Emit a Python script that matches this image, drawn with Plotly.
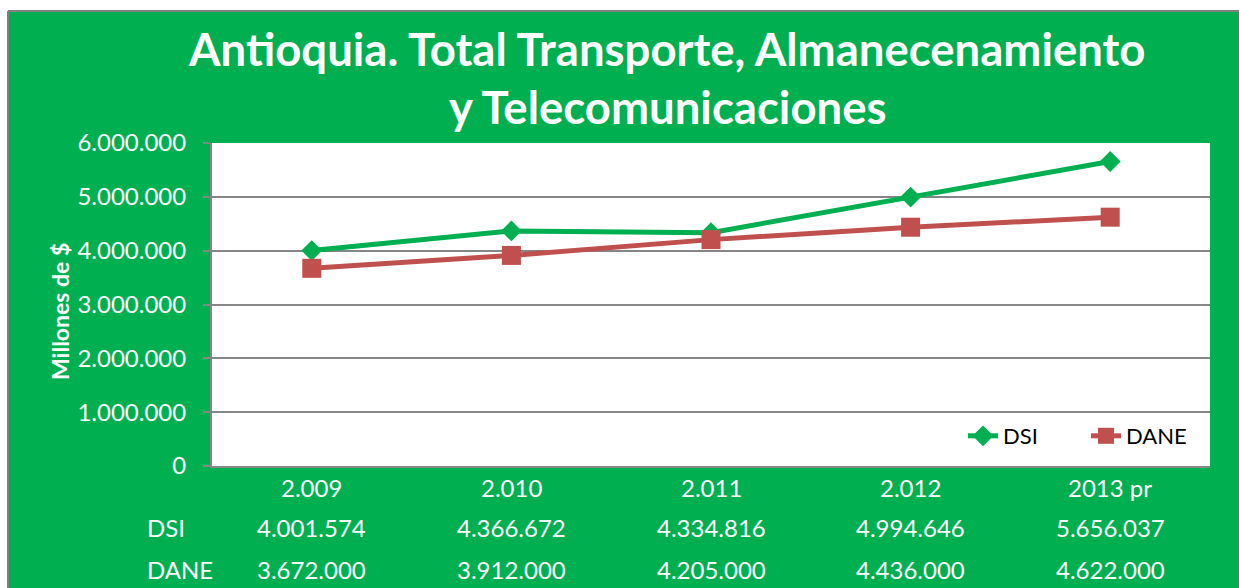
import plotly.graph_objects as go

categories = ["2.009", "2.010", "2.011", "2.012", "2013 pr"]
dsi = [4001574, 4366672, 4334816, 4994646, 5656037]
dane = [3672000, 3912000, 4205000, 4436000, 4622000]
series_names = ["DSI", "DANE"]

GREEN_BG = "#00B050"
DSI_COLOR = "#00B050"
DANE_COLOR = "#C0504D"
GRID = "#868686"
FONT = "Lato"

def fmt(v):
    return f"{v:,}".replace(",", ".")

W, H = 1239, 588
L, R, T, B = 212, 1210, 143, 466
pw, ph = R - L, B - T

def px(x):  # page x -> paper
    return (x - L) / pw

def py(y):  # page y -> paper
    return (B - y) / ph

fig = go.Figure()
fig.add_trace(go.Scatter(x=list(range(5)), y=dsi, name=series_names[0], mode="lines+markers",
                         line=dict(color=DSI_COLOR, width=5),
                         marker=dict(symbol="diamond", size=16, color=DSI_COLOR)))
fig.add_trace(go.Scatter(x=list(range(5)), y=dane, name=series_names[1], mode="lines+markers",
                         line=dict(color=DANE_COLOR, width=5),
                         marker=dict(symbol="square", size=19, color=DANE_COLOR)))

annotations = []
annotations.append(dict(text="<b>Antioquia. Total Transporte, Almanecenamiento</b>", x=px(667), y=py(49),
                        xref="paper", yref="paper", showarrow=False, xanchor="center", yanchor="middle",
                        font=dict(family=FONT, size=45.5, color="white")))
annotations.append(dict(text="<b>y Telecomunicaciones</b>", x=px(668), y=py(106),
                        xref="paper", yref="paper", showarrow=False, xanchor="center", yanchor="middle",
                        font=dict(family=FONT, size=45.5, color="white")))
rows = [(None, categories, 488), ("DSI", [fmt(v) for v in dsi], 527), ("DANE", [fmt(v) for v in dane], 569)]
for label, vals, ypix in rows:
    if label:
        annotations.append(dict(text=label, x=px(145), y=py(ypix), xref="paper", yref="paper",
                                showarrow=False, xanchor="left", yanchor="middle",
                                font=dict(family=FONT, size=24, color="white")))
    for i, t in enumerate(vals):
        annotations.append(dict(text=t, x=i, y=py(ypix), xref="x", yref="paper",
                                showarrow=False, xanchor="center", yanchor="middle",
                                font=dict(family=FONT, size=24, color="white")))
annotations.append(dict(text="<b>Millones de $</b>", x=px(60), y=py(312), xref="paper", yref="paper",
                        showarrow=False, xanchor="center", yanchor="middle", textangle=-90,
                        font=dict(family=FONT, size=23, color="white")))

shapes = [
    dict(type="rect", xref="paper", yref="paper", x0=px(-20), x1=px(W + 20), y0=py(11), y1=py(-20),
         fillcolor="white", line=dict(width=0), layer="below"),
    dict(type="rect", xref="paper", yref="paper", x0=px(-20), x1=px(8), y0=py(H + 20), y1=py(-20),
         fillcolor="white", line=dict(width=0), layer="below"),
    dict(type="line", xref="paper", yref="paper", x0=px(8), x1=px(W + 20), y0=py(11), y1=py(11),
         line=dict(color="#808080", width=2)),
    dict(type="line", xref="paper", yref="paper", x0=px(8), x1=px(8), y0=py(11), y1=py(H + 20),
         line=dict(color="#808080", width=2)),
]

fig.update_layout(
    width=W, height=H,
    margin=dict(l=L, r=W - R, t=T, b=H - B),
    paper_bgcolor=GREEN_BG, plot_bgcolor="white",
    separators=",.",
    showlegend=True,
    legend=dict(x=px(963), y=py(436), xanchor="left", yanchor="middle", orientation="h",
                bgcolor="rgba(0,0,0,0)", font=dict(family=FONT, size=22, color="black"),
                entrywidth=78, entrywidthmode="pixels", tracegroupgap=0),
    annotations=annotations,
    shapes=shapes,
    font=dict(family=FONT),
)
fig.update_xaxes(range=[-0.5, 4.5], showticklabels=False, showgrid=False, zeroline=False,
                 showline=True, linecolor=GRID, linewidth=2, mirror=False, ticks="")
fig.update_yaxes(range=[0, 6000000], dtick=1000000, tickformat=",d", showgrid=True,
                 gridcolor=GRID, gridwidth=1.5, zeroline=False,
                 showline=True, linecolor=GRID, linewidth=2, mirror=False,
                 ticks="outside", ticklen=7, tickcolor=GRID, tickwidth=1.5, ticklabelstandoff=12,
                 tickfont=dict(family=FONT, size=24, color="white"))

fig.write_html("out.html", config={"displayModeBar": False},
               post_script="document.body.style.margin='0px';document.body.style.overflow='hidden';")
